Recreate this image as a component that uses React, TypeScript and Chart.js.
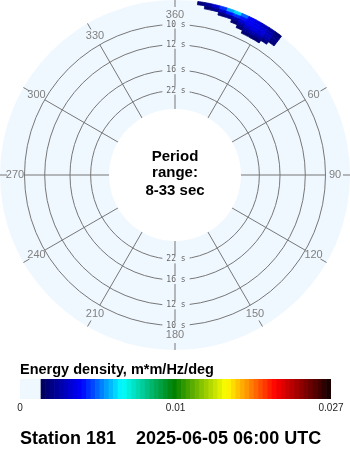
import React, { useEffect, useRef } from 'react';
import { Chart, registerables } from 'chart.js';

Chart.register(...registerables);

const FONT = '"Liberation Sans", Arial, sans-serif';
const BG = '#f0f8ff';
const GRID = '#777777';

// Radial axis = frequency (Hz). Centre of the disk and its rim.
const CENTER_FREQ = -0.0241;
const RIM_FREQ = 0.1202;
const HOLE_PERIOD = 33; // s, inner edge of the plotted period range
const PERIODS = [10, 12, 16, 22]; // s, period circles
const PERIOD_LABELS = ['10 s', '12 s', '16 s', '22 s'];
const ANGLE_LABELS = ['360', '30', '60', '90', '120', '150', '180', '210', '240', '270', '300', '330'];
const CENTER_TEXT = ['Period', 'range:', '8-33 sec'];

// Direction bins (deg, clockwise from north)
const DIR_STEP = 2.5;
const N_DIR = 144;
const SPEC_FIRST_DIR = 5; // first direction bin of the energy table
// Frequency ring edges (Hz) of the energy table
const RING_EDGES = [0.105, 0.1075, 0.11, 0.1125, 0.115, 0.1175, 0.1202];
// Energy density (m*m/Hz/deg), rows = rings (inner -> outer), cols = 2.5 deg bins from 5 deg
const ENERGY_RING_1 = [0, 0, 0, 0, 0, 0, 0, 0, 0.0005, 0.0006, 0.0005, 0, 0, 0];
const ENERGY_RING_2 = [0, 0, 0, 0, 0, 0, 0, 0.0005, 0.0012, 0.0014, 0.0013, 0.0007, 0, 0];
const ENERGY_RING_3 = [0, 0, 0, 0, 0, 0, 0.0005, 0.0013, 0.002, 0.0022, 0.002, 0.0015, 0.0006, 0];
const ENERGY_RING_4 = [0, 0, 0, 0, 0.0006, 0.001, 0.0015, 0.0022, 0.0026, 0.0026, 0.0024, 0.0018, 0.0009, 0];
const ENERGY_RING_5 = [0, 0, 0.0005, 0.0009, 0.002, 0.0032, 0.0036, 0.0032, 0.0028, 0.0026, 0.0022, 0.0016, 0.0008, 0];
const ENERGY_RING_6 = [0, 0.0006, 0.0012, 0.0022, 0.0036, 0.005, 0.0056, 0.0042, 0.003, 0.0024, 0.0018, 0.0012, 0.0005, 0];
const ENERGY = [ENERGY_RING_1, ENERGY_RING_2, ENERGY_RING_3, ENERGY_RING_4, ENERGY_RING_5, ENERGY_RING_6];

// Colour bar
const CB_TITLE = 'Energy density, m*m/Hz/deg';
const CB_TICK_VALUES = [0, 0.01, 0.027];
const CB_TICK_LABELS = ['0', '0.01', '0.027'];
const CB_TICK_LEVELS = [0, 0.464, 1]; // position along the colour ramp
const CB_ZERO_SHARE = 0.0675; // share of the bar used by the zero swatch
const CB_STEPS = 64;
const CMAP_POS = [0, 0.14, 0.28, 0.46, 0.64, 0.81, 1];
const CMAP_COLORS = ['#000058', '#0000ff', '#00ffff', '#008000', '#ffff00', '#ff0000', '#120000'];

const STATION_TEXT = 'Station 181    2025-06-05 06:00 UTC';

function hexRgb(h: string): number[] {
  const n = parseInt(h.slice(1), 16);
  return [(n >> 16) & 255, (n >> 8) & 255, n & 255];
}

function rampColor(p: number): string {
  const t = Math.max(0, Math.min(1, p));
  let k = 0;
  while (k < CMAP_POS.length - 2 && t > CMAP_POS[k + 1]) k++;
  const f = (t - CMAP_POS[k]) / (CMAP_POS[k + 1] - CMAP_POS[k]);
  const a = hexRgb(CMAP_COLORS[k]);
  const b = hexRgb(CMAP_COLORS[k + 1]);
  const c = a.map((v, i) => Math.round(v + (b[i] - v) * f));
  return `rgb(${c[0]},${c[1]},${c[2]})`;
}

function energyLevel(e: number): number {
  for (let k = 0; k < CB_TICK_VALUES.length - 1; k++) {
    if (e <= CB_TICK_VALUES[k + 1]) {
      const f = (e - CB_TICK_VALUES[k]) / (CB_TICK_VALUES[k + 1] - CB_TICK_VALUES[k]);
      return CB_TICK_LEVELS[k] + f * (CB_TICK_LEVELS[k + 1] - CB_TICK_LEVELS[k]);
    }
  }
  return 1;
}

function energyColor(e: number): string {
  return e > 0 ? rampColor(energyLevel(e)) : 'rgba(0,0,0,0)';
}

const dirLabels = Array.from({ length: N_DIR }, (_, i) => String(i * DIR_STEP));

function ringColors(row: number[]): string[] {
  return dirLabels.map((_, i) => {
    const col = Math.round((i * DIR_STEP - SPEC_FIRST_DIR) / DIR_STEP);
    const e = col >= 0 && col < row.length ? row[col] : 0;
    return energyColor(e);
  });
}

const ringInnerPlugin = {
  id: 'ringInner',
  beforeDatasetsDraw(chart: any) {
    const s = chart.scales.r;
    chart.data.datasets.forEach((ds: any, di: number) => {
      if (ds.innerFreq === undefined) return;
      const r0 = s.getDistanceFromCenterForValue(ds.innerFreq);
      chart.getDatasetMeta(di).data.forEach((el: any) => {
        el.innerRadius = r0;
      });
    });
  },
};

const labelsPlugin = {
  id: 'polarLabels',
  beforeDatasetsDraw(chart: any) {
    const s = chart.scales.r;
    const ctx = chart.ctx;
    ctx.save();
    // period labels, top and bottom
    ctx.font = '8px "DejaVu Sans Mono", monospace';
    ctx.textAlign = 'center';
    ctx.textBaseline = 'middle';
    PERIODS.forEach((p, i) => {
      const r = s.getDistanceFromCenterForValue(1 / p);
      const w = ctx.measureText(PERIOD_LABELS[i]).width + 8;
      [-1, 1].forEach((sg) => {
        const y = s.yCenter + sg * r;
        ctx.fillStyle = BG;
        ctx.fillRect(s.xCenter - w / 2 + 1, y - 4, w, 8);
        ctx.fillStyle = '#666666';
        ctx.fillText(PERIOD_LABELS[i], s.xCenter + 1, y);
      });
    });
    // direction labels
    ctx.font = `11px ${FONT}`;
    ctx.fillStyle = '#808080';
    const step = N_DIR / ANGLE_LABELS.length;
    ANGLE_LABELS.forEach((lab, k) => {
      const pos = s.getPointPosition(k * step, s.drawingArea - 15);
      ctx.fillText(lab, pos.x, pos.y);
    });
    ctx.restore();
  },
  afterDatasetsDraw(chart: any) {
    const s = chart.scales.r;
    const ctx = chart.ctx;
    ctx.save();
    ctx.font = `bold 15px ${FONT}`;
    ctx.fillStyle = '#000';
    ctx.textAlign = 'center';
    ctx.textBaseline = 'alphabetic';
    const offs = [-14, 2, 20];
    CENTER_TEXT.forEach((t, i) => ctx.fillText(t, s.xCenter, s.yCenter + offs[i]));
    ctx.restore();
  },
};

export default function App() {
  const polarRef = useRef<HTMLCanvasElement>(null);
  const barRef = useRef<HTMLCanvasElement>(null);

  useEffect(() => {
    const ringSets = ENERGY.map((row, k) => ({
      label: `ring ${k}`,
      data: dirLabels.map(() => RING_EDGES[k + 1]),
      innerFreq: RING_EDGES[k],
      backgroundColor: ringColors(row),
      borderColor: ringColors(row),
      borderWidth: 0.8,
    }));
    const polar = new Chart(polarRef.current as HTMLCanvasElement, {
      type: 'polarArea',
      data: {
        labels: dirLabels,
        datasets: [
          { label: 'hole', data: [1 / HOLE_PERIOD], backgroundColor: '#ffffff', borderWidth: 0 } as any,
          ...ringSets,
        ],
      },
      options: {
        responsive: false,
        animation: false,
        devicePixelRatio: 1,
        events: [],
        layout: { padding: 0 },
        plugins: { legend: { display: false }, tooltip: { enabled: false }, title: { display: false } },
        scales: {
          r: {
            type: 'radialLinear',
            min: CENTER_FREQ,
            max: RIM_FREQ,
            beginAtZero: false,
            startAngle: 0,
            backgroundColor: BG,
            afterBuildTicks: (sc: any) => {
              sc.ticks = PERIODS.map((p) => ({ value: 1 / p }));
            },
            ticks: { display: false },
            pointLabels: { display: false },
            grid: { circular: true, color: GRID, lineWidth: 1 },
            angleLines: {
              display: true,
              color: GRID,
              lineWidth: (c: any) => (c.index % (N_DIR / ANGLE_LABELS.length) === 0 ? 1 : 0),
              borderDash: (c: any) => {
                const sc = c.scale;
                const r10 = sc.getDistanceFromCenterForValue(1 / PERIODS[0]);
                const rt = sc.drawingArea - 7;
                return [r10, rt - r10, 30];
              },
            },
          } as any,
        },
      } as any,
      plugins: [ringInnerPlugin, labelsPlugin],
    });

    const cellW = (1 - CB_ZERO_SHARE) / CB_STEPS;
    const cells = [{ x: [0, CB_ZERO_SHARE], y: 'E' }].concat(
      Array.from({ length: CB_STEPS }, (_, k) => ({
        x: [CB_ZERO_SHARE + k * cellW, CB_ZERO_SHARE + (k + 1) * cellW],
        y: 'E',
      }))
    );
    const cellColors = [BG].concat(Array.from({ length: CB_STEPS }, (_, k) => rampColor((k + 0.5) / CB_STEPS)));
    const tickPos = CB_TICK_LEVELS.map((l, i) => (i === 0 ? 0 : CB_ZERO_SHARE + l * (1 - CB_ZERO_SHARE)));

    const bar = new Chart(barRef.current as HTMLCanvasElement, {
      type: 'bar',
      data: {
        labels: ['E'],
        datasets: [
          {
            data: cells as any,
            backgroundColor: cellColors,
            borderWidth: 0,
            barPercentage: 1,
            categoryPercentage: 1,
          },
        ],
      },
      options: {
        indexAxis: 'y',
        responsive: false,
        animation: false,
        devicePixelRatio: 1,
        events: [],
        layout: { padding: { left: 20, right: 19, top: 0, bottom: 0 } },
        plugins: {
          legend: { display: false },
          tooltip: { enabled: false },
          title: {
            display: true,
            text: CB_TITLE,
            align: 'start',
            color: '#000',
            font: { family: FONT, size: 14.5, weight: 'bold' },
            padding: { top: 11.3, bottom: 0.3 },
          },
          subtitle: {
            display: true,
            position: 'bottom',
            text: STATION_TEXT,
            align: 'start',
            color: '#000',
            font: { family: FONT, size: 18, weight: 'bold' },
            padding: { top: 11.4, bottom: 0 },
          },
        },
        scales: {
          x: {
            type: 'linear',
            min: 0,
            max: 1,
            afterBuildTicks: (sc: any) => {
              sc.ticks = tickPos.map((v) => ({ value: v }));
            },
            ticks: {
              autoSkip: false,
              maxRotation: 0,
              padding: 3,
              color: '#222',
              font: { family: FONT, size: 10 },
              callback: (_v: any, i: number) => CB_TICK_LABELS[i],
            },
            grid: { display: false, drawTicks: false },
            border: { display: false },
          },
          y: { type: 'category', display: false },
        },
      } as any,
    });

    return () => {
      polar.destroy();
      bar.destroy();
    };
  }, []);

  return (
    <div style={{ position: 'absolute', left: 0, top: 0, width: 350, height: 450, background: '#fff' }}>
      <canvas
        ref={polarRef}
        width={350}
        height={350}
        style={{ position: 'absolute', left: 0, top: 0, width: 350, height: 350 }}
      />
      <canvas
        ref={barRef}
        width={350}
        height={100}
        style={{ position: 'absolute', left: 0, top: 350, width: 350, height: 100 }}
      />
    </div>
  );
}
